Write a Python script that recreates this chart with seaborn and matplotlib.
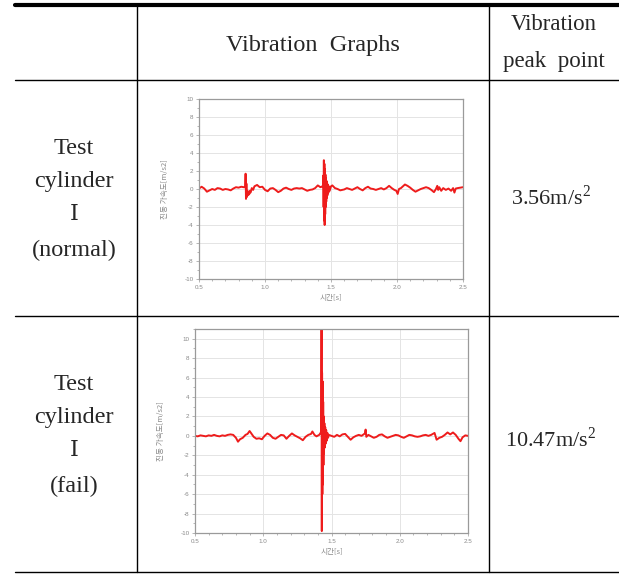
import pandas as pd
import matplotlib.pyplot as plt
import seaborn as sns
from matplotlib.ticker import MultipleLocator

# Vibration signals (time [s], acceleration [m/s2])
time_normal = [0.50, 0.52, 0.54, 0.56, 0.58, 0.60, 0.62, 0.64, 0.66, 0.68, 0.70, 0.72, 0.74, 0.76, 0.78,
               0.80, 0.82, 0.84, 0.850, 0.853, 0.856, 0.859, 0.862, 0.866, 0.870, 0.875, 0.880, 0.885,
               0.890, 0.900, 0.910, 0.920, 0.940, 0.960, 0.980, 1.000, 1.020, 1.040, 1.060, 1.080, 1.100,
               1.120, 1.140, 1.160, 1.180, 1.200, 1.220, 1.240, 1.260, 1.280, 1.300, 1.320, 1.340, 1.360,
               1.380, 1.400, 1.420, 1.435, 1.440, 1.442, 1.444, 1.446, 1.448, 1.450, 1.452, 1.454, 1.456,
               1.458, 1.460, 1.462, 1.464, 1.466, 1.468, 1.470, 1.473, 1.476, 1.480, 1.485, 1.490, 1.500,
               1.510, 1.530, 1.550, 1.570, 1.600, 1.620, 1.640, 1.660, 1.680, 1.700, 1.720, 1.740, 1.760,
               1.780, 1.800, 1.820, 1.840, 1.860, 1.880, 1.900, 1.920, 1.940, 1.960, 1.980, 1.995, 2.005,
               2.015, 2.030, 2.060, 2.080, 2.100, 2.120, 2.140, 2.160, 2.180, 2.200, 2.220, 2.240, 2.260,
               2.280, 2.295, 2.305, 2.312, 2.320, 2.335, 2.350, 2.370, 2.390, 2.410, 2.425, 2.435, 2.445,
               2.460, 2.480, 2.500]
accel_normal = [0.05, 0.25, 0.05, -0.30, -0.15, 0.00, -0.10, 0.10, 0.05, -0.10, 0.00, -0.05, -0.15, 0.05, 0.20,
                0.15, 0.25, 0.20, 0.20, 1.70, -1.10, 0.60, -0.90, -0.20, -0.70, -0.30, -0.60, -0.20,
                -0.40, 0.10, -0.10, 0.30, 0.45, 0.20, 0.25, -0.10, -0.25, 0.05, 0.10, -0.10, -0.35,
                -0.20, 0.05, 0.15, 0.00, -0.10, 0.05, 0.10, 0.05, 0.10, -0.05, -0.20, -0.10, -0.05,
                0.10, 0.40, 0.20, 0.30, 0.20, 1.50, -2.00, 3.20, -3.50, 2.80, -4.00, 2.20, -2.80,
                1.60, -2.00, 1.20, -1.40, 0.90, -1.00, 0.70, -0.70, 0.50, -0.40, 0.30, -0.20, 0.30,
                0.40, 0.10, 0.00, -0.15, -0.05, 0.10, 0.00, -0.10, 0.05, 0.20, 0.00, -0.15, 0.10,
                0.25, 0.05, 0.00, -0.10, 0.00, 0.10, -0.05, 0.10, 0.35, 0.10, -0.10, -0.20, -0.55,
                0.00, 0.10, 0.50, 0.35, 0.15, -0.10, -0.30, -0.15, 0.00, 0.10, 0.20, 0.10, -0.10,
                -0.35, 0.00, 0.35, -0.10, 0.20, -0.20, 0.10, -0.10, 0.05, -0.20, 0.10, -0.40, 0.05,
                0.10, 0.15, 0.20]

time_fail = [0.50, 0.52, 0.54, 0.56, 0.58, 0.60, 0.62, 0.64, 0.66, 0.68, 0.70, 0.72, 0.74, 0.76, 0.78,
             0.80, 0.815, 0.83, 0.85, 0.87, 0.885, 0.90, 0.915, 0.93, 0.95, 0.97, 0.99, 1.01, 1.03,
             1.05, 1.07, 1.09, 1.11, 1.13, 1.15, 1.17, 1.19, 1.21, 1.23, 1.25, 1.27, 1.29, 1.31, 1.33,
             1.35, 1.36, 1.375, 1.39, 1.41, 1.420, 1.425, 1.427, 1.429, 1.431, 1.433, 1.435, 1.437,
             1.439, 1.441, 1.443, 1.445, 1.448, 1.451, 1.454, 1.457, 1.461, 1.465, 1.470, 1.475, 1.48,
             1.50, 1.52, 1.54, 1.56, 1.58, 1.60, 1.62, 1.64, 1.66, 1.68, 1.70, 1.72, 1.745, 1.750,
             1.755, 1.77, 1.79, 1.81, 1.83, 1.85, 1.87, 1.89, 1.91, 1.93, 1.95, 1.97, 1.99, 2.01,
             2.03, 2.05, 2.07, 2.09, 2.11, 2.13, 2.15, 2.17, 2.19, 2.21, 2.23, 2.255, 2.27, 2.29,
             2.31, 2.33, 2.35, 2.37, 2.39, 2.41, 2.43, 2.445, 2.46, 2.48, 2.50]
accel_fail = [0.00, -0.05, 0.05, 0.00, -0.05, 0.05, 0.00, 0.10, 0.00, -0.05, 0.05, 0.00, 0.10, 0.15, 0.10,
              -0.20, -0.60, -0.35, -0.20, 0.10, 0.20, 0.50, 0.20, -0.10, -0.30, -0.25, -0.35, 0.00, 0.25,
              0.10, -0.20, -0.30, -0.10, 0.10, 0.05, -0.30, 0.00, 0.25, 0.05, -0.10, -0.25, -0.45, -0.10, 0.10,
              0.20, 0.45, 0.10, -0.05, 0.10, 0.30, 0.50, 11.00, -9.80, 6.50, -6.00, 5.60, -5.00,
              3.50, -3.00, 2.00, -1.80, 1.30, -1.20, 0.90, -0.80, 0.60, -0.50, 0.30, -0.20, 0.10,
              0.00, -0.10, 0.10, -0.05, 0.15, 0.20, -0.10, -0.40, -0.15, 0.00, 0.10, 0.00, 0.25, 0.65,
              -0.10, 0.10, -0.05, -0.20, -0.10, 0.10, 0.15, -0.05, -0.20, -0.10, 0.00, 0.10, 0.05, -0.10,
              -0.20, -0.05, 0.10, 0.05, -0.05, -0.10, -0.05, 0.05, 0.10, 0.00, 0.10, 0.30, -0.40, -0.20,
              -0.10, 0.10, 0.35, 0.15, 0.35, 0.10, -0.30, -0.55, -0.15, 0.05, 0.00]

row_labels = [["Test", "cylinder", "Ⅰ", "(normal)"], ["Test", "cylinder", "Ⅰ", "(fail)"]]
peak_values = ["3.56", "10.47"]
x_ticks = [0.5, 1.0, 1.5, 2.0, 2.5]
y_ticks = list(range(-10, 11, 2))

sns.set_style("white")
plt.rcParams['font.family'] = ['Liberation Serif', 'DejaVu Serif', 'Noto Sans CJK KR']
plt.rcParams['mathtext.fontset'] = 'custom'
plt.rcParams['mathtext.rm'] = 'Liberation Serif'

fig = plt.figure(figsize=(6.19, 5.74), dpi=100)

# table frame drawn in pixel coordinates
bg = fig.add_axes([0, 0, 1, 1])
bg.set_xlim(0, 619)
bg.set_ylim(574, 0)
bg.axis('off')
bg.plot([15, 619], [5, 5], color='black', lw=3)
for yy in [80, 316, 572]:
    bg.plot([15, 619], [yy, yy], color='black', lw=1)
for xx in [137, 489]:
    bg.plot([xx, xx], [5, 572], color='black', lw=1)

bg.text(313, 45, "Vibration  Graphs", fontsize=17.5, ha='center', va='center')
bg.text(554, 25, "Vibration", fontsize=16.5, ha='center', va='center')
bg.text(554, 61, "peak  point", fontsize=16.5, ha='center', va='center')

for lines, y0 in zip(row_labels, [148, 384]):
    for i, s in enumerate(lines):
        fs = 16 if s == "Ⅰ" else 17.5
        bg.text(74, y0 + i * 34, s, fontsize=fs, ha='center', va='center')

for val, yy in zip(peak_values, [198, 440]):
    bg.text(551, yy, val + r"m/s$^{2}$", fontsize=16, ha='center', va='center')

sans = ['Liberation Sans', 'DejaVu Sans']
kr = ['Noto Sans CJK KR', 'DejaVu Sans']


def style(ax, top):
    ax.set_xlim(0.5, 2.5)
    ax.set_ylim(-10, top)
    ax.set_xticks(x_ticks)
    ax.set_xticklabels([f"{v:.1f}" for v in x_ticks], fontfamily=sans)
    ax.set_yticks(y_ticks)
    ax.set_yticklabels([str(v) for v in y_ticks], fontfamily=sans)
    ax.yaxis.set_minor_locator(MultipleLocator(1))
    ax.xaxis.set_minor_locator(MultipleLocator(0.1))
    ax.grid(True, which='major', color='#e4e4e4', lw=0.7)
    for sp in ax.spines.values():
        sp.set_color('#9a9a9a')
        sp.set_linewidth(0.9)
    ax.tick_params(which='both', direction='out', colors='#999999', labelcolor='#888888',
                   labelsize=4.5, width=0.5, pad=1.5, left=True, bottom=True)
    ax.tick_params(which='major', length=2.5)
    ax.tick_params(which='minor', length=1.5)
    ax.set_xlabel("시간[s]", fontsize=5.5, color='#8a8a8a', fontfamily=kr, labelpad=3)
    ax.set_ylabel("진동 가속도[m/s2]", fontsize=5.5, color='#8a8a8a', fontfamily=kr, labelpad=11)


df_n = pd.DataFrame({"t": time_normal, "a": accel_normal})
df_f = pd.DataFrame({"t": time_fail, "a": accel_fail})

ax1 = fig.add_axes([199 / 619, 1 - 279 / 574, 264 / 619, 180 / 574])
sns.lineplot(data=df_n, x="t", y="a", ax=ax1, color='#ee1c1c', lw=1.4, estimator=None, sort=False)
style(ax1, 10)

ax2 = fig.add_axes([195 / 619, 1 - 533 / 574, 273 / 619, 204 / 574])
sns.lineplot(data=df_f, x="t", y="a", ax=ax2, color='#ee1c1c', lw=1.4, estimator=None, sort=False)
style(ax2, 11)

fig.savefig("out.png", dpi=100)
